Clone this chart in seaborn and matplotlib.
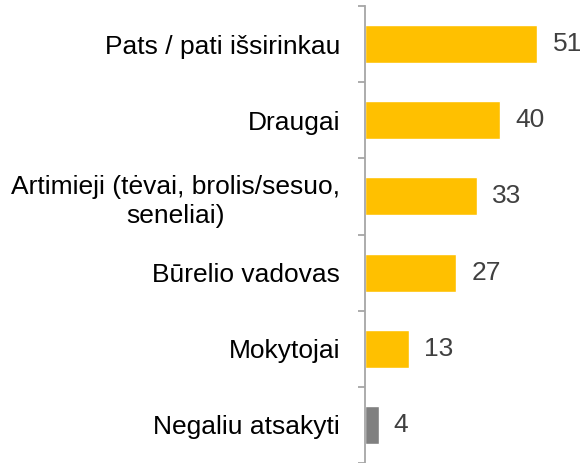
import matplotlib
matplotlib.use("Agg")
import matplotlib.pyplot as plt
import seaborn as sns
import pandas as pd
import numpy as np

categories = ["Pats / pati išsirinkau", "Draugai",
              "Artimieji (tėvai, brolis/sesuo,\nseneliai)",
              "Būrelio vadovas", "Mokytojai", "Negaliu atsakyti"]
values = [51, 40, 33, 27, 13, 4]
bar_colors = ["#FFC000", "#FFC000", "#FFC000", "#FFC000", "#FFC000", "#808080"]

sns.set_theme(style="white")
plt.rcParams['font.family'] = ['Liberation Sans', 'DejaVu Sans']

df = pd.DataFrame({"cat": categories, "val": values})

fig = plt.figure(figsize=(5.8, 4.63), dpi=100)
ax = fig.add_axes([365/580, 0.0, 1 - 365/580, 457/463])

sns.barplot(data=df, x="val", y="cat", hue="cat", palette=bar_colors,
            legend=False, width=0.5, ax=ax, orient="h", saturation=1)

ax.set_xlim(0, 63.6)
ax.set_ylim(-0.5 + 457/76.6, -0.5)
ax.set_xlabel("")
ax.set_ylabel("")
ax.set_xticks([])

for s in ["top", "right", "bottom"]:
    ax.spines[s].set_visible(False)
ax.spines["left"].set_color("#A6A6A6")
ax.spines["left"].set_linewidth(1.3)

fs = 19
ax.set_yticks(range(len(categories)))
ax.set_yticklabels(categories, fontsize=fs, color="#000000", ha="right",
                   multialignment="center", linespacing=1.25)
ax.tick_params(axis="y", which="major", length=0, pad=18)
ax.set_yticks(np.arange(-0.5, len(categories), 1.0), minor=True)
ax.tick_params(axis="y", which="minor", length=5, width=1.3, color="#A6A6A6",
               left=True, direction="out")

for i, v in enumerate(values):
    ax.text(v + 4.5, i, str(v), va="center", ha="left", fontsize=fs,
            color="#404040")

fig.savefig("out.png", dpi=100)
